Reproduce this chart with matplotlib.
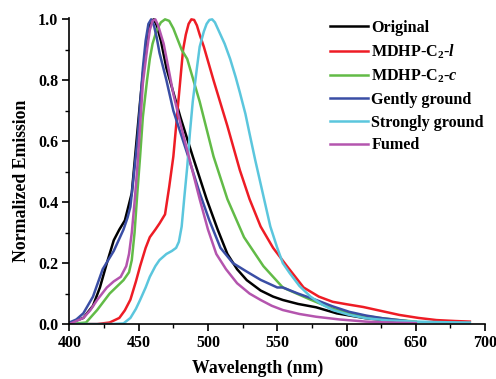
import numpy as np
import matplotlib
matplotlib.use('Agg')
import matplotlib.pyplot as plt
from matplotlib.ticker import MultipleLocator

plt.rcParams['font.family'] = 'Liberation Serif'
plt.rcParams['font.weight'] = 'bold'
plt.rcParams['mathtext.fontset'] = 'custom'
plt.rcParams['mathtext.rm'] = 'Liberation Serif:bold'
plt.rcParams['mathtext.it'] = 'Liberation Serif:bold:italic'

# spectra (wavelength nm, normalized emission)
orig_wl = [400, 410, 417, 422, 427, 432, 436, 440, 445, 448, 451, 453, 455, 457, 459, 461, 463, 466, 470, 475, 480, 489, 499, 507, 514, 521, 528, 538, 547, 554, 565, 578, 593, 614, 630, 650]
orig_y = [0.003, 0.02, 0.06, 0.12, 0.2, 0.275, 0.31, 0.34, 0.43, 0.58, 0.73, 0.82, 0.9, 0.965, 0.995, 1.0, 0.98, 0.93, 0.84, 0.76, 0.68, 0.55, 0.41, 0.31, 0.23, 0.18, 0.144, 0.11, 0.09, 0.079, 0.066, 0.055, 0.035, 0.019, 0.012, 0.006]

l_wl = [400, 420, 429, 436, 440, 444, 448, 451, 455, 458, 462, 465, 469, 472, 475, 477, 480, 482, 484, 486, 488, 490, 492, 494, 497, 504, 514, 523, 530, 538, 547, 557, 569, 580, 590, 600, 612, 625, 638, 652, 665, 678, 689]
l_y = [0.0, 0.0, 0.005, 0.02, 0.045, 0.08, 0.14, 0.19, 0.25, 0.285, 0.31, 0.33, 0.36, 0.45, 0.55, 0.65, 0.8, 0.9, 0.95, 0.985, 1.0, 0.998, 0.98, 0.95, 0.91, 0.8, 0.65, 0.505, 0.41, 0.32, 0.25, 0.19, 0.12, 0.09, 0.073, 0.065, 0.056, 0.043, 0.03, 0.02, 0.013, 0.01, 0.008]

c_wl = [400, 412, 420, 429, 439, 443, 445, 447, 449, 451, 453, 456, 458, 460, 463, 466, 469, 472, 475, 478, 481, 485, 494, 504, 514, 526, 540, 554, 559, 574, 590, 602, 614, 626, 640, 650]
c_y = [0.0, 0.005, 0.046, 0.1, 0.144, 0.17, 0.21, 0.3, 0.43, 0.55, 0.68, 0.8, 0.87, 0.92, 0.965, 0.99, 1.0, 0.995, 0.97, 0.935, 0.9, 0.87, 0.73, 0.55, 0.41, 0.285, 0.19, 0.12, 0.11, 0.08, 0.05, 0.035, 0.026, 0.019, 0.012, 0.008]

g_wl = [400, 405, 410, 417, 424, 432, 439, 442, 444, 446, 449, 451, 453, 455, 457, 459, 461, 463, 465, 470, 475, 485, 494, 501, 509, 518, 528, 538, 550, 554, 565, 578, 590, 602, 614, 626, 643]
g_y = [0.005, 0.015, 0.035, 0.09, 0.18, 0.24, 0.31, 0.35, 0.385, 0.47, 0.6, 0.72, 0.84, 0.93, 0.985, 1.0, 0.98, 0.94, 0.89, 0.8, 0.7, 0.56, 0.43, 0.34, 0.25, 0.2, 0.172, 0.145, 0.12, 0.12, 0.1, 0.079, 0.058, 0.04, 0.028, 0.019, 0.01]

s_wl = [400, 430, 439, 444, 448, 451, 455, 458, 462, 465, 470, 474, 477, 479, 481, 483, 485, 487, 489, 492, 494, 497, 499, 501, 503, 505, 507, 509, 512, 516, 520, 523, 527, 530, 534, 538, 541, 545, 550, 554, 559, 566, 574, 582, 590, 602, 614, 630, 650, 670, 689]
s_y = [0.0, 0.0, 0.002, 0.02, 0.05, 0.079, 0.12, 0.155, 0.19, 0.21, 0.23, 0.24, 0.25, 0.27, 0.32, 0.42, 0.515, 0.63, 0.73, 0.84, 0.91, 0.96, 0.985, 0.998, 1.0, 0.99, 0.97, 0.95, 0.92, 0.87, 0.81, 0.76, 0.69, 0.625, 0.54, 0.46, 0.4, 0.32, 0.25, 0.2, 0.167, 0.125, 0.09, 0.065, 0.046, 0.03, 0.019, 0.012, 0.008, 0.006, 0.005]

f_wl = [400, 410, 415, 420, 427, 432, 437, 441, 443, 445, 447, 449, 451, 453, 456, 458, 460, 462, 464, 466, 468, 471, 475, 480, 485, 494, 500, 506, 513, 521, 530, 538, 546, 554, 566, 578, 595, 614, 630, 650]
f_y = [0.0, 0.02, 0.045, 0.079, 0.12, 0.14, 0.155, 0.19, 0.23, 0.3, 0.4, 0.515, 0.65, 0.79, 0.9, 0.965, 0.995, 1.0, 0.98, 0.95, 0.92, 0.85, 0.755, 0.66, 0.57, 0.41, 0.31, 0.23, 0.18, 0.134, 0.1, 0.079, 0.06, 0.046, 0.033, 0.024, 0.015, 0.008, 0.005, 0.003]

names = ['Original', 'MDHP-C$_2$-$l$', 'MDHP-C$_2$-$c$', 'Gently ground', 'Strongly ground', 'Fumed']
colors = ['#000000', '#ee1c25', '#62bb47', '#3a4ea5', '#5bc6dd', '#b455ae']
series = [(orig_wl, orig_y), (l_wl, l_y), (c_wl, c_y), (g_wl, g_y), (s_wl, s_y), (f_wl, f_y)]

fig = plt.figure(figsize=(4.96, 3.79), dpi=100)
ax = fig.add_axes([0.14, 0.145, 0.838, 0.808])

for (wl, y), name, col in zip(series, names, colors):
    ax.plot(wl, y, color=col, lw=1.8, label=name, solid_joinstyle='round')

ax.set_xlim(400, 700)
ax.set_ylim(0, 1.005)
ax.xaxis.set_major_locator(MultipleLocator(50))
ax.xaxis.set_minor_locator(MultipleLocator(25))
ax.yaxis.set_major_locator(MultipleLocator(0.2))
ax.yaxis.set_minor_locator(MultipleLocator(0.1))
ax.yaxis.set_major_formatter(plt.FormatStrFormatter('%.1f'))
ax.tick_params(which='major', direction='out', length=5, width=1.2, labelsize=11.5, pad=3)
ax.tick_params(which='minor', direction='out', length=3, width=1.0)
for sp in ['top', 'right']:
    ax.spines[sp].set_visible(False)
for sp in ['left', 'bottom']:
    ax.spines[sp].set_linewidth(1.2)

ax.set_xlabel('Wavelength (nm)', fontsize=12.8, fontweight='bold', labelpad=6)
ax.set_ylabel('Normalized Emission', fontsize=12.8, fontweight='bold', labelpad=6)
ax.xaxis.label.set_x(0.453)
ax.yaxis.label.set_y(0.469)

leg = ax.legend(loc='upper left', bbox_to_anchor=(0.612, 1.015), frameon=False,
                fontsize=11.6, handlelength=2.35, handletextpad=0.2,
                labelspacing=0.42, borderaxespad=0)

fig.savefig('out.png', dpi=100)
